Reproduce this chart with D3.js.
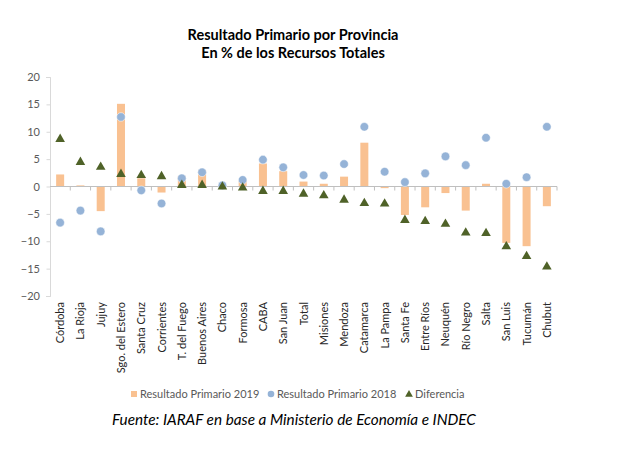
<!DOCTYPE html>
<html lang="es">
<head>
<meta charset="UTF-8">
<title>Resultado Primario por Provincia</title>
<script src="https://cdn.jsdelivr.net/npm/d3@7"></script>
<style>
  body { margin:0; padding:0; background:#fff; overflow:hidden; }
  svg text { font-family: Lato, "Noto Sans", sans-serif; }
</style>
</head>
<body>
<div id="chart"></div>
<script>
// data
const provincias = ["Córdoba","La Rioja","Jujuy","Sgo. del Estero","Santa Cruz","Corrientes",
  "T. del Fuego","Buenos Aires","Chaco","Formosa","CABA","San Juan","Total","Misiones",
  "Mendoza","Catamarca","La Pampa","Santa Fe","Entre Ríos","Neuquén","Río Negro","Salta",
  "San Luis","Tucumán","Chubut"];
const res2019 = [2.2, 0.2, -4.5, 15.1, 1.5, -1.1, 1.9, 3.0, 0.3, 1.1, 4.2, 2.8, 0.9, 0.5,
  1.8, 8.0, -0.3, -5.2, -3.8, -1.2, -4.4, 0.5, -10.3, -10.9, -3.6];
const res2018 = [-6.6, -4.4, -8.2, 12.7, -0.7, -3.1, 1.5, 2.6, 0.2, 1.2, 4.9, 3.5, 2.1, 2.0,
  4.1, 10.9, 2.7, 0.8, 2.4, 5.5, 3.9, 8.9, 0.5, 1.7, 10.9];
const diferencia = [8.8, 4.6, 3.7, 2.4, 2.2, 2.0, 0.4, 0.4, 0.1, -0.1, -0.7, -0.7, -1.2, -1.5,
  -2.3, -2.9, -3.0, -6.0, -6.2, -6.7, -8.3, -8.4, -10.8, -12.6, -14.5];
const yTicks = [20, 15, 10, 5, 0, -5, -10, -15, -20];
const series = ["Resultado Primario 2019", "Resultado Primario 2018", "Diferencia"];

const W = 618, H = 467;
const colBar = "#F9C191", colDot = "#95B3D7", colTri = "#4F6228";

const svg = d3.select("#chart").append("svg").attr("width", W).attr("height", H);

const x = d3.scaleBand().domain(provincias).range([50, 557]);
const y = d3.scaleLinear().domain([-20, 20]).range([296, 77]);

// title, two lines
svg.append("text").attr("x", 293).attr("y", 40).attr("text-anchor", "middle")
  .attr("font-weight", "bold").attr("font-size", 14.5).attr("fill", "#000")
  .text("Resultado Primario por Provincia");
svg.append("text").attr("x", 293).attr("y", 58).attr("text-anchor", "middle")
  .attr("font-weight", "bold").attr("font-size", 14.5).attr("fill", "#000")
  .text("En % de los Recursos Totales");

// y axis
const yAxis = svg.append("g").attr("transform", "translate(50,0)")
  .call(d3.axisLeft(y).tickValues(yTicks).tickSize(4).tickPadding(6));
yAxis.select(".domain").attr("stroke", "#d9d9d9");
yAxis.selectAll(".tick line").attr("stroke", "#d9d9d9").attr("transform", "translate(0.5,0)");
yAxis.selectAll(".tick text").attr("fill", "#595959").attr("font-size", 11)
  .style("font-family", "Lato, sans-serif");

// bars
const bw = 8;
svg.append("g").selectAll("rect").data(provincias).join("rect")
  .attr("x", d => x(d) + x.bandwidth() / 2 - bw / 2)
  .attr("width", bw)
  .attr("y", (d, i) => y(Math.max(0, res2019[i])))
  .attr("height", (d, i) => Math.abs(y(res2019[i]) - y(0)))
  .attr("fill", colBar);

// x axis on zero
const xAxis = svg.append("g").attr("transform", `translate(0,${y(0)})`);
xAxis.append("line").attr("x1", 50).attr("x2", 557).attr("stroke", "#bfbfbf");
xAxis.selectAll(".tk").data(provincias).join("line")
  .attr("class", "tk")
  .attr("x1", d => x(d) + x.step()).attr("x2", d => x(d) + x.step())
  .attr("y1", 0).attr("y2", 4).attr("stroke", "#bfbfbf");

// circles 2018
svg.append("g").selectAll("circle").data(provincias).join("circle")
  .attr("cx", d => x(d) + x.bandwidth() / 2)
  .attr("cy", (d, i) => y(res2018[i]))
  .attr("r", 4.3)
  .attr("fill", colDot).attr("stroke", "#fff").attr("stroke-width", 0.5);

// triangles diferencia
const tri = d3.symbol().type(d3.symbolTriangle).size(40);
svg.append("g").selectAll("path").data(provincias).join("path")
  .attr("d", tri)
  .attr("transform", (d, i) => `translate(${x(d) + x.bandwidth() / 2},${y(diferencia[i]) + 0.8})`)
  .attr("fill", colTri);

// category labels
svg.append("g").selectAll("text").data(provincias).join("text")
  .attr("transform", d => `translate(${x(d) + x.bandwidth() / 2 + 4},302) rotate(-90)`)
  .attr("text-anchor", "end")
  .attr("font-size", 11).attr("fill", "#262626")
  .text(d => d);

// legend
const lg = svg.append("g").attr("font-size", 11).attr("fill", "#595959");
lg.append("rect").attr("x", 131).attr("y", 391).attr("width", 6).attr("height", 6).attr("fill", colBar);
lg.append("text").attr("x", 140).attr("y", 398).text(series[0]);
lg.append("circle").attr("cx", 271).attr("cy", 394).attr("r", 3.3).attr("fill", colDot);
lg.append("text").attr("x", 277).attr("y", 398).text(series[1]);
lg.append("path").attr("d", d3.symbol().type(d3.symbolTriangle).size(26))
  .attr("transform", "translate(409,394.5)").attr("fill", colTri);
lg.append("text").attr("x", 415).attr("y", 398).text(series[2]);

// source
svg.append("text").attr("x", 294).attr("y", 425).attr("text-anchor", "middle")
  .attr("font-style", "italic").attr("font-size", 15.3).attr("fill", "#000")
  .text("Fuente: IARAF en base a Ministerio de Economía e INDEC");
</script>
</body>
</html>
